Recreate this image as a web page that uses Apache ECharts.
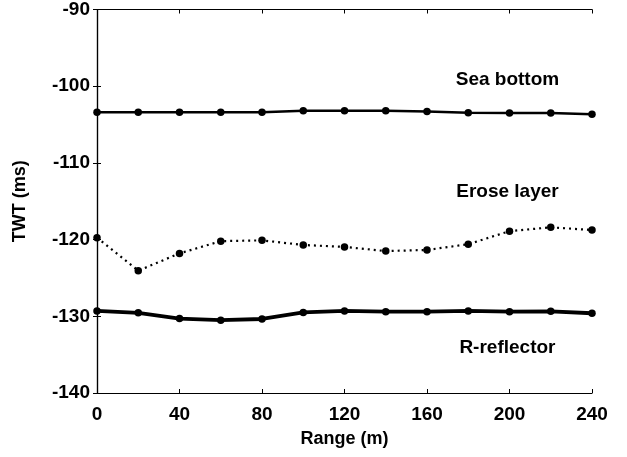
<!DOCTYPE html>
<html><head><meta charset="utf-8">
<script src="https://cdn.jsdelivr.net/npm/echarts@6/dist/echarts.min.js"></script>
<style>html,body{margin:0;padding:0;background:#fff}#c{width:627px;height:457px}</style>
</head><body><div id="c"></div>
<script>
const ranges = [0,20,40,60,80,100,120,140,160,180,200,220,240];
const seaBottom = [-103.4,-103.4,-103.4,-103.4,-103.4,-103.2,-103.2,-103.2,-103.3,-103.45,-103.5,-103.5,-103.65];
const eroseLayer = [-119.75,-124.05,-121.8,-120.2,-120.1,-120.7,-120.95,-121.5,-121.35,-120.6,-118.9,-118.4,-118.75];
const rReflector = [-129.3,-129.55,-130.3,-130.5,-130.35,-129.5,-129.3,-129.4,-129.4,-129.3,-129.4,-129.35,-129.6];
const labelNames = ['Sea bottom','Erose layer','R-reflector'];
const labelX = [199,199,199];
const labelY = [-99.1,-113.8,-134.1];
const xTicks = [0,40,80,120,160,200,240];
const yTicks = [-140,-130,-120,-110,-100,-90];

const font = 'Liberation Sans, Arial, sans-serif';
const chart = echarts.init(document.getElementById('c'), null, {renderer:'canvas'});
const pairs = a => ranges.map((x,i)=>[x,a[i]]);
const lineSeries = (name, arr, w, type) => ({
  name, type:'line', data:pairs(arr), symbol:'circle', symbolSize:7.5,
  itemStyle:{color:'#000'}, lineStyle:{color:'#000', width:w, type},
  xAxisIndex:0, yAxisIndex:0, animation:false, z:3
});
const axisCommon = {
  axisLine:{show:true, lineStyle:{color:'#000', width:1.2}},
  axisTick:{show:true, inside:true, length:4, lineStyle:{color:'#000'}},
  splitLine:{show:false}
};
const txt = {fontFamily:font, fontWeight:'bold', fontSize:19, color:'#000'};
chart.setOption({
  animation:false,
  grid:{left:97, right:35, top:9.5, bottom:64},
  xAxis:[
    Object.assign({type:'value', min:0, max:240, interval:40, position:'bottom',
      name:'Range (m)', nameLocation:'middle', nameGap:37,
      nameTextStyle:Object.assign({}, txt, {fontSize:18}),
      axisLabel:Object.assign({margin:12, formatter:v=>xTicks.includes(v)?String(v):''}, txt)}, axisCommon),
    Object.assign({type:'value', min:0, max:240, interval:40, position:'top', axisLabel:{show:false}}, axisCommon)
  ],
  yAxis:[
    Object.assign({type:'value', min:-140, max:-90, interval:10, position:'left',
      name:'TWT (ms)', nameLocation:'middle', nameGap:68,
      nameTextStyle:Object.assign({}, txt, {fontSize:18}),
      axisLabel:Object.assign({margin:7, formatter:v=>yTicks.includes(v)?String(v):''}, txt)}, axisCommon),
    Object.assign({type:'value', min:-140, max:-90, interval:10, position:'right', axisLabel:{show:false}}, axisCommon)
  ],
  series:[
    lineSeries('Sea bottom', seaBottom, 2.5, 'solid'),
    lineSeries('Erose layer', eroseLayer, 2.2, [2,4]),
    lineSeries('R-reflector', rReflector, 3.8, 'solid')
  ]
});
chart.setOption({
  graphic: labelNames.map((n,i)=>{
    const p = chart.convertToPixel({xAxisIndex:0, yAxisIndex:0}, [labelX[i], labelY[i]]);
    return {type:'text', x:p[0], y:p[1], silent:true, z:10,
      style:{text:n, font:'bold 19px ' + font, fill:'#000', align:'center', verticalAlign:'middle'}};
  })
});
</script></body></html>
